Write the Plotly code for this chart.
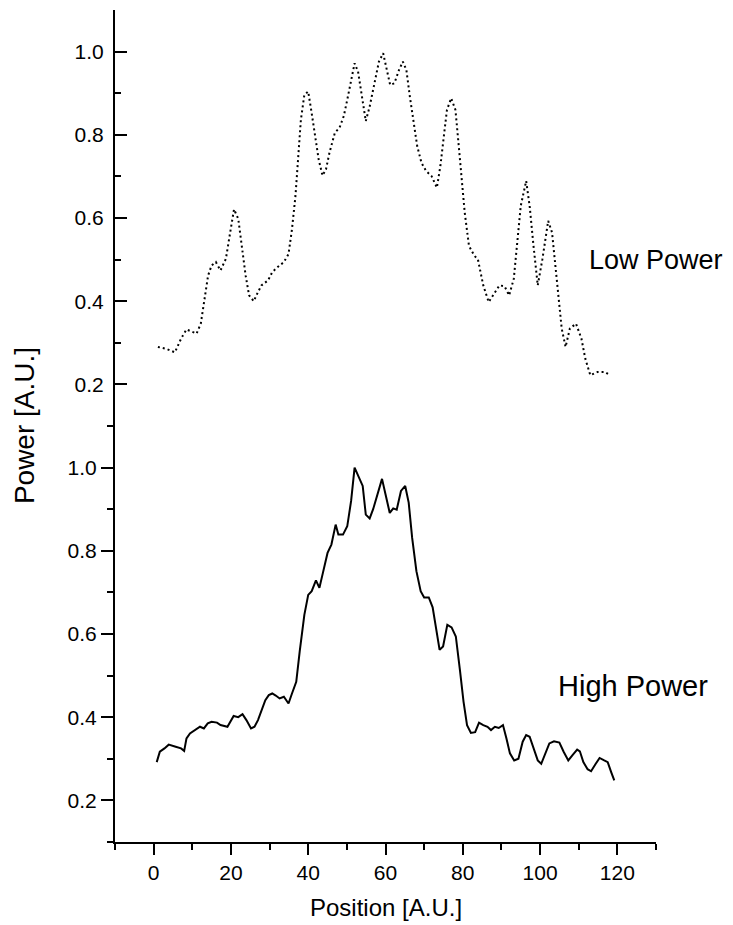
import plotly.graph_objects as go

# ---- data ----
pos_low = [1.1, 3.4, 5.5, 7.1, 8.5, 9.9, 11.1, 12.2, 13.1, 14.1, 15.0, 16.1, 17.3, 18.7, 19.8,
           20.8, 21.9, 22.8, 23.8, 24.7, 25.9, 27.0, 27.9, 29.6, 30.7, 32.1, 33.7, 34.9, 35.8,
           36.7, 37.4, 38.1, 39.0, 40.0, 40.9, 41.8, 42.7, 43.7, 44.6, 45.5, 46.9, 48.1, 49.2,
           50.1, 51.1, 52.0, 52.9, 54.0, 54.9, 55.9, 57.1, 58.3, 59.4, 60.3, 61.2, 62.3, 63.5,
           64.5, 65.4, 66.3, 67.3, 68.2, 69.3, 70.5, 71.9, 73.3, 74.2, 74.9, 75.9, 77.0, 78.1,
           78.8, 79.6, 80.5, 81.6, 83.0, 83.9, 85.3, 86.7, 87.9, 89.5, 90.8, 92.0, 93.2, 94.1,
           95.0, 96.4, 97.3, 98.3, 99.4, 100.6, 102.1, 103.1, 104.0, 104.9, 105.6, 106.6, 107.7,
           109.3, 110.7, 111.7, 113.0, 114.9, 116.7, 118.1]
pow_low = [0.290, 0.285, 0.277, 0.310, 0.332, 0.326, 0.322, 0.346, 0.398, 0.462, 0.486, 0.494,
           0.474, 0.502, 0.565, 0.621, 0.598, 0.534, 0.462, 0.414, 0.400, 0.422, 0.438, 0.450,
           0.470, 0.482, 0.494, 0.513, 0.573, 0.653, 0.741, 0.836, 0.896, 0.904, 0.852, 0.797,
           0.741, 0.702, 0.717, 0.757, 0.805, 0.817, 0.845, 0.884, 0.932, 0.972, 0.952, 0.892,
           0.833, 0.868, 0.924, 0.976, 0.996, 0.960, 0.920, 0.924, 0.956, 0.976, 0.956, 0.892,
           0.829, 0.773, 0.733, 0.713, 0.701, 0.673, 0.725, 0.781, 0.860, 0.888, 0.860, 0.789,
           0.701, 0.613, 0.533, 0.509, 0.501, 0.438, 0.398, 0.414, 0.438, 0.436, 0.414, 0.454,
           0.550, 0.629, 0.689, 0.629, 0.533, 0.438, 0.501, 0.593, 0.565, 0.486, 0.398, 0.334,
           0.290, 0.334, 0.346, 0.310, 0.262, 0.222, 0.230, 0.230, 0.222]

pos_high = [0.8, 1.6, 2.8, 3.9, 5.7, 7.1, 7.9, 8.5, 9.4, 10.8, 12.0, 13.0, 14.0, 15.0, 16.4,
            17.3, 19.1, 20.7, 21.9, 23.0, 24.0, 25.2, 26.1, 27.0, 28.9, 29.8, 30.7, 31.6, 32.6,
            33.7, 34.9, 35.8, 36.9, 37.8, 39.0, 40.0, 40.9, 42.0, 42.9, 43.8, 45.0, 46.0, 47.1,
            47.8, 49.0, 50.1, 51.1, 52.0, 53.1, 54.1, 54.9, 55.9, 56.8, 58.0, 59.1, 60.0, 61.1,
            62.0, 62.9, 64.0, 65.1, 66.0, 66.9, 68.0, 69.1, 70.0, 71.2, 72.2, 73.1, 74.0, 74.9,
            76.0, 77.1, 78.2, 79.3, 80.2, 81.1, 82.1, 83.2, 84.2, 85.3, 86.4, 87.3, 88.3, 89.3,
            90.4, 91.3, 92.2, 93.3, 94.4, 95.5, 96.4, 97.3, 98.2, 99.4, 100.3, 101.3, 102.4,
            103.6, 105.0, 106.1, 107.3, 108.4, 109.6, 110.3, 111.2, 112.3, 113.2, 114.4, 115.4,
            116.6, 117.5, 118.4, 119.2]
pow_high = [0.292, 0.317, 0.325, 0.334, 0.329, 0.325, 0.319, 0.349, 0.361, 0.370, 0.377, 0.373,
            0.385, 0.389, 0.387, 0.381, 0.377, 0.403, 0.400, 0.407, 0.393, 0.373, 0.377, 0.393,
            0.441, 0.453, 0.457, 0.452, 0.445, 0.449, 0.433, 0.457, 0.485, 0.558, 0.646, 0.694,
            0.703, 0.729, 0.711, 0.747, 0.795, 0.815, 0.863, 0.839, 0.839, 0.859, 0.920, 1.000,
            0.977, 0.956, 0.887, 0.878, 0.900, 0.940, 0.973, 0.936, 0.891, 0.902, 0.899, 0.944,
            0.956, 0.916, 0.831, 0.751, 0.703, 0.688, 0.688, 0.664, 0.614, 0.562, 0.570, 0.622,
            0.616, 0.594, 0.510, 0.437, 0.381, 0.362, 0.364, 0.387, 0.381, 0.377, 0.369, 0.377,
            0.374, 0.381, 0.349, 0.313, 0.296, 0.300, 0.341, 0.357, 0.353, 0.329, 0.296, 0.288,
            0.313, 0.337, 0.342, 0.339, 0.317, 0.296, 0.309, 0.322, 0.318, 0.292, 0.275, 0.270,
            0.288, 0.302, 0.296, 0.292, 0.268, 0.248]

x_ticks = [0, 20, 40, 60, 80, 100, 120]
y_ticks = [0.2, 0.4, 0.6, 0.8, 1.0]
y_tick_text = ["0.2", "0.4", "0.6", "0.8", "1.0"]

FONT = "Liberation Sans, Arial, Helvetica, sans-serif"

fig = go.Figure()
fig.add_trace(go.Scatter(x=pos_low, y=pow_low, mode="lines", yaxis="y2",
                         line=dict(color="black", width=2, dash="2px,3px"),
                         showlegend=False))
fig.add_trace(go.Scatter(x=pos_high, y=pow_high, mode="lines", yaxis="y",
                         line=dict(color="black", width=2), showlegend=False))

fig.update_layout(
    width=733, height=925,
    margin=dict(l=115, r=77, t=10, b=83),
    paper_bgcolor="white", plot_bgcolor="white",
    font=dict(family=FONT, color="black"),
    xaxis=dict(range=[-10, 130], tickvals=x_ticks, showgrid=False, zeroline=False,
               showline=True, linecolor="black", linewidth=2,
               ticks="outside", ticklen=11, tickwidth=2, tickcolor="black",
               minor=dict(dtick=10, tick0=0, ticks="outside", ticklen=6, tickwidth=2,
                          tickcolor="black", showgrid=False),
               tickfont=dict(size=21, family=FONT), anchor="y", automargin=False),
    yaxis=dict(domain=[0, 0.5], range=[0.0999, 1.1001], tickvals=y_ticks, ticktext=y_tick_text,
               showgrid=False, zeroline=False, showline=True, linecolor="black", linewidth=2,
               ticks="outside", ticklen=12, tickwidth=2, tickcolor="black",
               minor=dict(dtick=0.1, tick0=0.1, ticks="outside", ticklen=6, tickwidth=2,
                          tickcolor="black", showgrid=False),
               tickfont=dict(size=21, family=FONT), anchor="x", automargin=False),
    yaxis2=dict(domain=[0.5, 1], range=[0.0999, 1.1001], tickvals=y_ticks, ticktext=y_tick_text,
                showgrid=False, zeroline=False, showline=True, linecolor="black", linewidth=2,
                ticks="inside", ticklen=12, tickwidth=2, tickcolor="black",
                minor=dict(dtick=0.1, tick0=0.1, ticks="inside", ticklen=6, tickwidth=2,
                           tickcolor="black", showgrid=False),
                tickfont=dict(size=21, family=FONT), ticklabelstandoff=5, anchor="x",
                automargin=False),
    annotations=[
        dict(text="Low Power", x=112.2, y=0.50, xref="x", yref="y2", xanchor="left",
             yanchor="middle", showarrow=False, font=dict(size=27, family=FONT)),
        dict(text="High Power", x=104.0, y=0.475, xref="x", yref="y", xanchor="left",
             yanchor="middle", showarrow=False, font=dict(size=29, family=FONT)),
        dict(text="Power [A.U.]", x=-0.168, y=0.5, xref="paper", yref="paper",
             xanchor="center", yanchor="middle", textangle=-90, showarrow=False,
             font=dict(size=28, family=FONT)),
        dict(text="Position [A.U.]", x=0.5, y=-0.079, xref="paper", yref="paper",
             xanchor="center", yanchor="middle", showarrow=False,
             font=dict(size=24, family=FONT)),
    ],
)

fig.write_html("out.html", config={"displayModeBar": False},
               post_script="document.body.style.margin='0px';")
